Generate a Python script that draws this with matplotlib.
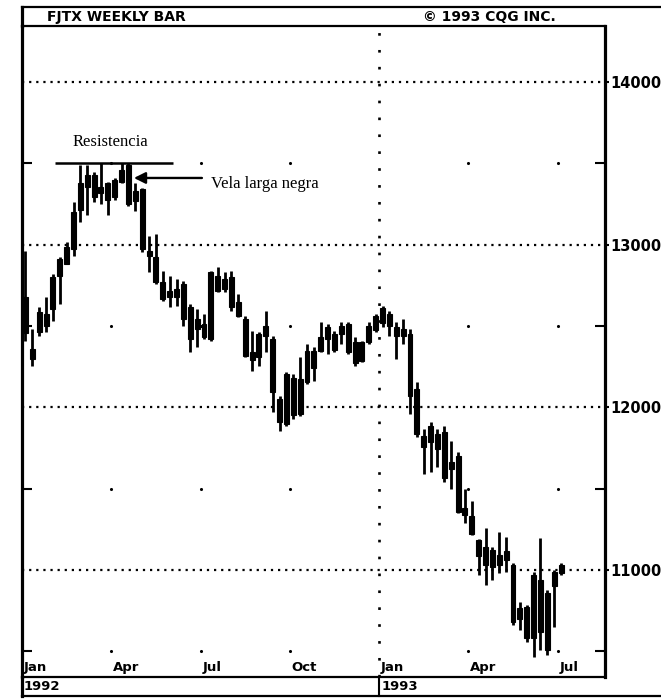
import matplotlib
matplotlib.use("Agg")
import matplotlib.pyplot as plt
from matplotlib.lines import Line2D
import numpy as np

# ---------------- data ----------------
opens = [12680, 12360, 12463, 12500, 12604, 12806, 12880, 12971, 13216, 13357,
         13430, 13320, 13381, 13296, 13388, 13490, 13330, 13340, 12960, 12922,
         12769, 12677, 12726, 12757, 12616, 12481, 12512, 12420, 12806, 12726,
         12800, 12647, 12542, 12340, 12310, 12438, 12420, 12053, 11900, 12180,
         11960, 12157, 12240, 12346, 12420, 12450, 12450, 12512, 12400, 12285,
         12400, 12475, 12520, 12573, 12494, 12481, 12450, 12114, 11826, 11789,
         11746, 11850, 11667, 11703, 11379, 11330, 11182, 11145, 11019, 11093,
         11060, 11031, 10767, 10773, 10583, 10940, 10859, 10900, 10985]
highs = [12960, 12480, 12616, 12677, 12818, 12922, 13014, 13265, 13492, 13492,
         13449, 13504, 13388, 13412, 13504, 13504, 13381, 13351, 13051, 13063,
         12836, 12806, 12787, 12775, 12634, 12604, 12573, 12836, 12861, 12830,
         12836, 12696, 12561, 12469, 12463, 12591, 12438, 12071, 12218, 12206,
         12310, 12389, 12370, 12524, 12512, 12469, 12524, 12524, 12432, 12408,
         12524, 12573, 12622, 12591, 12524, 12542, 12481, 12157, 11869, 11912,
         11869, 11887, 11795, 11728, 11501, 11422, 11194, 11259, 11142, 11234,
         11204, 11044, 10804, 10786, 10988, 11197, 10878, 11001, 11044]
lows = [12410, 12255, 12440, 12463, 12530, 12634, 12880, 12928, 13137, 13185,
        13265, 13247, 13185, 13277, 13381, 13235, 13204, 12953, 12830, 12757,
        12653, 12616, 12622, 12500, 12340, 12371, 12420, 12408, 12708, 12708,
        12591, 12555, 12310, 12224, 12255, 12340, 11973, 11857, 11887, 11930,
        11950, 12144, 12163, 12340, 12328, 12340, 12389, 12328, 12255, 12280,
        12390, 12463, 12494, 12440, 12297, 12390, 11960, 11820, 11593, 11605,
        11636, 11544, 11501, 11348, 11287, 11213, 10967, 10909, 10939, 10982,
        10988, 10663, 10632, 10558, 10466, 10509, 10478, 10650, 10970]
closes = [12460, 12300, 12585, 12573, 12800, 12910, 12983, 13198, 13381, 13430,
          13296, 13357, 13277, 13400, 13461, 13250, 13270, 12971, 12930, 12769,
          12665, 12714, 12680, 12542, 12420, 12542, 12432, 12830, 12714, 12787,
          12616, 12561, 12316, 12290, 12451, 12500, 12095, 11912, 12206, 11955,
          12175, 12346, 12346, 12432, 12494, 12350, 12500, 12340, 12270, 12400,
          12500, 12560, 12610, 12500, 12438, 12440, 12071, 11838, 11759, 11887,
          11838, 11563, 11624, 11360, 11336, 11220, 11084, 11030, 11124, 11031,
          11120, 10681, 10700, 10580, 10970, 10620, 10509, 10988, 11030]

month_labels = ["Jan", "Apr", "Jul", "Oct", "Jan", "Apr", "Jul"]
month_weeks = [0, 13, 26, 39, 52, 65, 78]
year_labels = ["1992", "1993"]
year_weeks = [0, 52]
price_ticks = [11000, 12000, 13000, 14000]
half_levels = [10500, 11500, 12500, 13500]
resistance_level = 13505
resistance_span = [4.8, 22.0]
title_left = "FJTX WEEKLY BAR"
title_right = "\u00a9 1993 CQG INC."
note_resist = "Resistencia"
note_candle = "Vela larga negra"
long_black_week = 15

# ---------------- figure ----------------
W, H = 661, 700
fig = plt.figure(figsize=(W / 100, H / 100), dpi=100)
fig.patch.set_facecolor("white")

def fx(px):
    return px / W

def fy(py):
    return 1 - py / H

L, R, T, B = 22, 605, 26, 677
ax = fig.add_axes([fx(L), fy(B), fx(R) - fx(L), fy(T) - fy(B)])
ax.set_xlim(0, 84.9)
ax.set_ylim(10343, 14344)

# grid: dotted horizontal levels
for lv in price_ticks:
    ax.axhline(lv, color="black", lw=1.6, ls=(0, (1, 2.2)), zorder=1)
# vertical dotted year separator
ax.axvline(year_weeks[1], color="black", lw=1.9, ls=(0, (1, 5.4)), zorder=1)
# sparse dots at quarter months / half levels
qx = [w for w in month_weeks if w not in year_weeks]
gx, gy = np.meshgrid(qx, half_levels)
ax.scatter(gx.ravel(), gy.ravel(), s=5, color="black", marker="o", lw=0, zorder=1)

# candles
x = np.arange(len(opens)) + 0.5
o = np.array(opens); c = np.array(closes)
h = np.array(highs); l = np.array(lows)
ax.vlines(x, l, h, color="black", lw=2.0, zorder=3)
bot = np.minimum(o, c)
hgt = np.maximum(np.abs(c - o), 20)
ax.bar(x, hgt, bottom=bot, width=0.72, color="black", edgecolor="black",
       lw=0.8, zorder=4)

# resistance line + annotations
ax.plot(resistance_span, [resistance_level, resistance_level], color="black",
        lw=1.8, solid_capstyle="butt", zorder=5)
ax.text(7.3, 13630, note_resist, fontsize=12, family="Liberation Serif",
        ha="left", va="center", zorder=6)
ax.annotate("", xy=(long_black_week + 1.3, 13410), xytext=(26.2, 13410),
            arrowprops=dict(arrowstyle="-|>", color="black", lw=1.7,
                            mutation_scale=17, shrinkA=0, shrinkB=0), zorder=6)
ax.text(27.5, 13375, note_candle, fontsize=12, family="Liberation Serif",
        ha="left", va="center", zorder=6)

# spines
for s in ["left", "right"]:
    ax.spines[s].set_linewidth(2.3)
for s in ["top", "bottom"]:
    ax.spines[s].set_linewidth(1.6)

# ticks
ax.set_xticks([])
ax.yaxis.tick_right()
ax.set_yticks(price_ticks)
ax.set_yticklabels([str(v) for v in price_ticks], fontsize=10.5,
                   fontweight="bold", family="DejaVu Sans")
ax.set_yticks(half_levels, minor=True)
ax.tick_params(axis="y", which="major", right=True, left=False, direction="out",
               length=3, width=1.5, pad=1)
ax.tick_params(axis="y", which="minor", right=True, left=True, direction="in",
               length=7, width=1.5)

# month labels inside the bottom of the plot
for w, lab in zip(month_weeks, month_labels):
    ax.text(w + 0.25, 0.004, lab, transform=ax.get_xaxis_transform(),
            ha="left", va="bottom", fontsize=9.5, fontweight="bold",
            family="DejaVu Sans", zorder=6)

# header box
fig.add_artist(Line2D([fx(L), fx(661)], [fy(7), fy(7)], color="black", lw=1.6))
fig.add_artist(Line2D([fx(L), fx(L)], [fy(7), fy(T)], color="black", lw=2.3))
fig.text(fx(47), fy(17), title_left, fontsize=10, fontweight="bold",
         family="DejaVu Sans", ha="left", va="center")
fig.text(fx(423), fy(17), title_right, fontsize=10, fontweight="bold",
         family="DejaVu Sans", ha="left", va="center")

# year box under the plot
YB = 696
fig.add_artist(Line2D([fx(L), fx(661)], [fy(YB), fy(YB)], color="black", lw=1.6))
fig.add_artist(Line2D([fx(L), fx(L)], [fy(B), fy(YB)], color="black", lw=2.3))
xsep = L + (R - L) * year_weeks[1] / 84.9
fig.add_artist(Line2D([fx(xsep), fx(xsep)], [fy(B), fy(YB)], color="black", lw=1.5))
for w, lab in zip(year_weeks, year_labels):
    px = L + (R - L) * w / 84.9
    fig.text(fx(px + 2), fy(687), lab, fontsize=9.5, fontweight="bold",
             family="DejaVu Sans", ha="left", va="center")

fig.savefig("out.png", dpi=100, facecolor="white")
